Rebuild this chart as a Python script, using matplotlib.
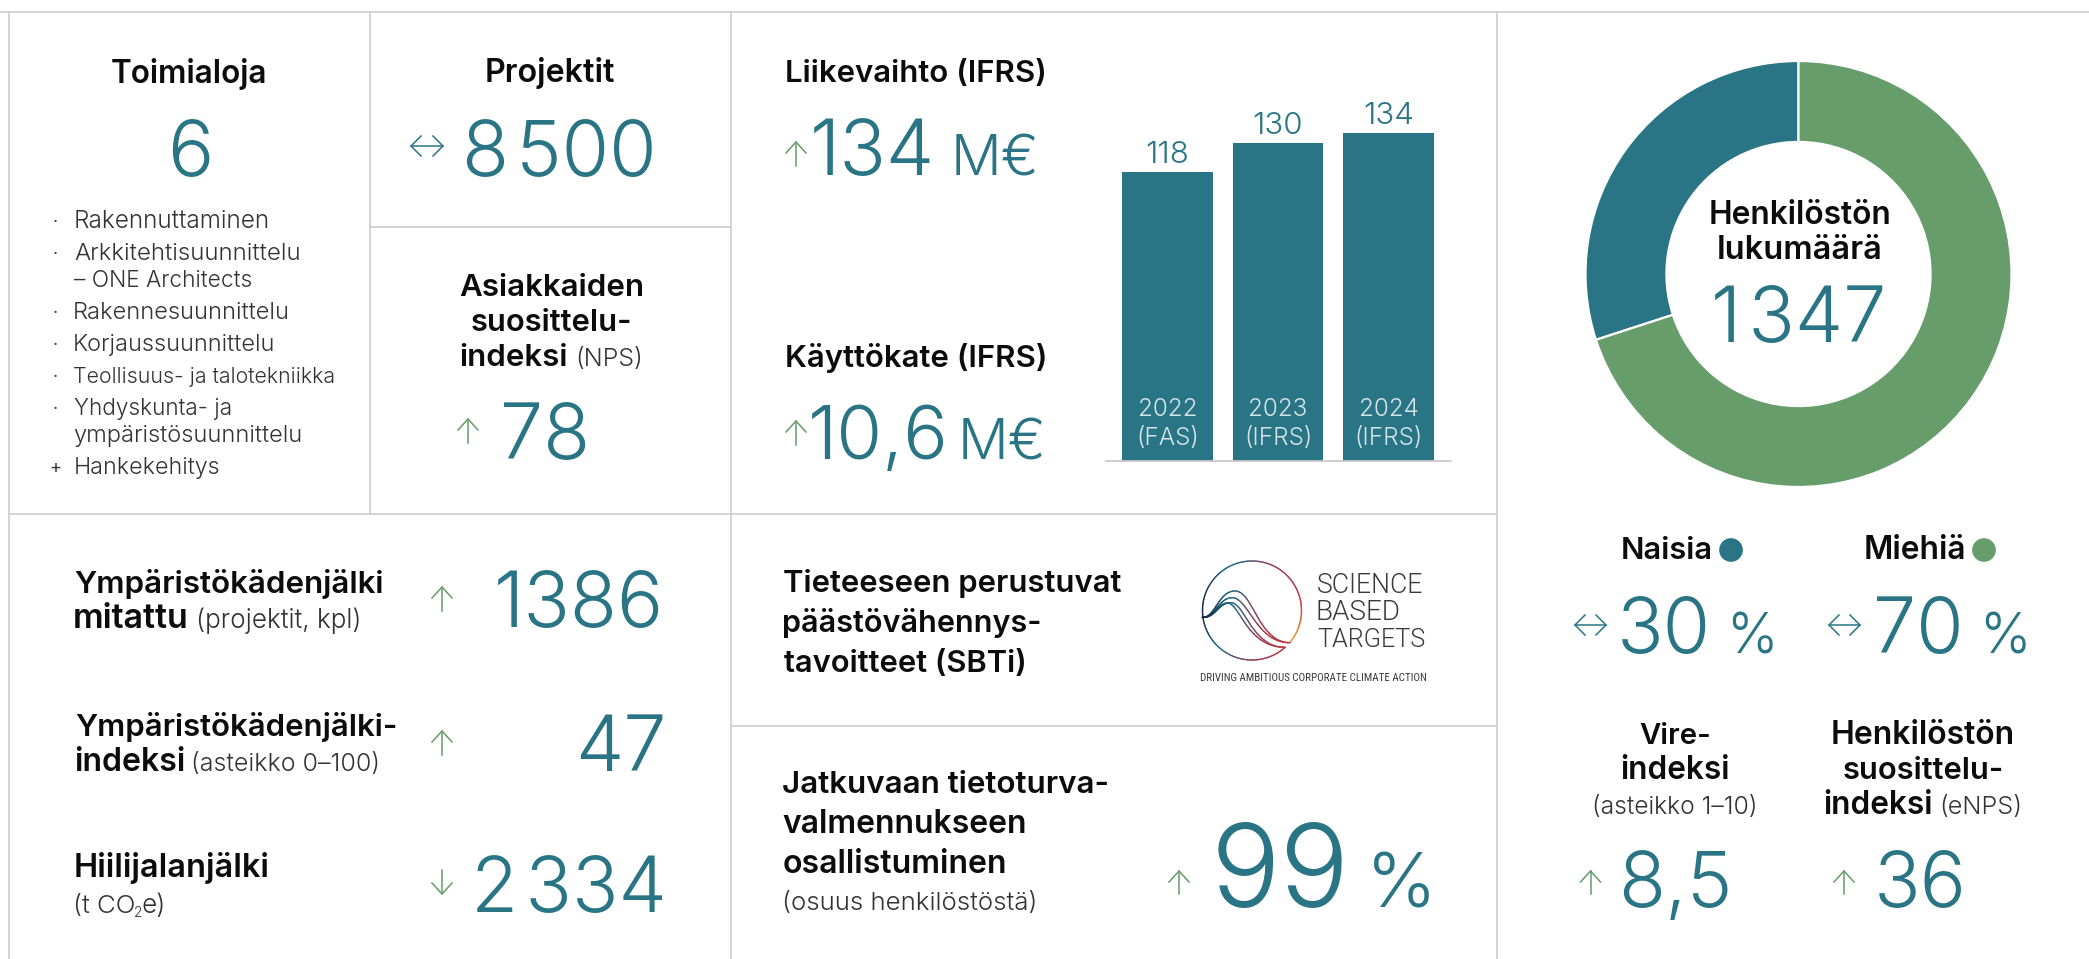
"""Yearly key-figures dashboard (Finnish), rebuilt on a pixel-sized overlay plus two small real charts."""

import matplotlib

matplotlib.use("Agg")
import matplotlib.pyplot as plt
import numpy as np
from matplotlib.collections import LineCollection
from matplotlib.colors import LinearSegmentedColormap
from matplotlib.font_manager import FontProperties
from matplotlib.textpath import TextPath

W, H = 2089, 959
DPI = 100
TEAL = "#2a7585"
GREEN = "#669d6b"
GRID = "#c9c9c9"
INK = "#0c0c0c"
BODY = "#333333"
FONT = "Inter"
CAP_RATIO = 0.727  # Inter cap height per em

# revenue bars
BAR_YEARS = ["2022", "2023", "2024"]
BAR_BASES = ["(FAS)", "(IFRS)", "(IFRS)"]
BAR_VALUES = [118, 130, 134]

# staff split
GENDER_LABELS = ["Naisia", "Miehiä"]
GENDER_SHARES = [30, 70]
GENDER_COLORS = [TEAL, GREEN]

# list of business areas
BUSINESS_AREAS = [
    "Rakennuttaminen",
    "Arkkitehtisuunnittelu",
    "– ONE Architects",
    "Rakennesuunnittelu",
    "Korjaussuunnittelu",
    "Teollisuus- ja talotekniikka",
    "Yhdyskunta- ja",
    "ympäristösuunnittelu",
    "Hankekehitys",
]
AREA_MARKS = ["·", "·", "", "·", "·", "·", "·", "", "+"]

fig = plt.figure(figsize=(W / DPI, H / DPI), dpi=DPI, facecolor="white")
ax = fig.add_axes([0, 0, 1, 1])
ax.set_xlim(0, W)
ax.set_ylim(H, 0)
ax.axis("off")


def fit(s, x0, x1, y, color=INK, weight=600, family=FONT, cap=None):
    """Put text on baseline y, its ink spanning x0..x1 in pixels; cap limits the height and centres it instead."""
    ink = TextPath((0, 0), s, size=100, prop=FontProperties(family=family, weight=weight)).get_extents()
    em_px = 100 * (x1 - x0) / ink.width
    if cap is not None:
        em_px = min(em_px, cap / CAP_RATIO)
    left = (x0 + x1) / 2 - ink.width * em_px / 200
    return ax.text(left - ink.x0 * em_px / 100, y, s, fontsize=em_px * 72 / DPI, color=color, fontweight=weight,
                   family=family, ha="left", va="baseline")


def value(s, x0, x1, y, cap=56):
    return fit(s, x0, x1, y, color=TEAL, weight=300, cap=cap)


def note(s, x0, x1, y):
    return fit(s, x0, x1, y, color=BODY, weight=300)


def rule(x0, y0, x1, y1):
    ax.plot([x0, x1], [y0, y1], color=GRID, lw=1.1, solid_capstyle="butt")


def up_arrow(x, y0, y1, color=GREEN):
    ax.plot([x, x], [y0, y1], color=color, lw=1.1)
    ax.plot([x - 10, x, x + 10], [y0 + 11, y0, y0 + 11], color=color, lw=1.1)


def down_arrow(x, y0, y1, color=GREEN):
    ax.plot([x, x], [y0, y1], color=color, lw=1.1)
    ax.plot([x - 10, x, x + 10], [y1 - 11, y1, y1 - 11], color=color, lw=1.1)


def both_arrow(x0, x1, y, color=TEAL):
    ax.plot([x0, x1], [y, y], color=color, lw=1.1)
    ax.plot([x0 + 10, x0, x0 + 10], [y - 10, y, y + 10], color=color, lw=1.1)
    ax.plot([x1 - 10, x1, x1 - 10], [y - 10, y, y + 10], color=color, lw=1.1)


# panel rules
rule(0, 11.5, W, 11.5)
rule(8.5, 11.5, 8.5, H)
rule(369.5, 11.5, 369.5, 514)
rule(731, 11.5, 731, H)
rule(1496.5, 11.5, 1496.5, H)
rule(369.5, 227, 731, 227)
rule(8.5, 514, 1496.5, 514)
rule(731, 726, 1496.5, 726)

# business areas
fit("Toimialoja", 112, 265.5, 83)
value("6", 168.5, 213, 176)
area_spans = [(75.5, 267.5), (74.5, 298), (74.5, 251.5), (75.5, 288.7), (75.5, 273.6), (74.5, 334), (74.5, 230),
              (74.5, 301), (75.5, 218)]
area_baselines = [228, 260, 287, 319, 351, 383, 415, 442, 474]
for name, mark, (x0, x1), y in zip(BUSINESS_AREAS, AREA_MARKS, area_spans, area_baselines):
    note(name, x0, x1, y)
    if mark:
        ax.text(55, y - 1, mark, fontsize=13, color=BODY, fontweight=400, family=FONT, ha="center", va="baseline")

# projects and NPS
fit("Projektit", 487, 614.5, 82)
both_arrow(411, 443, 146)
value("8\u200a500", 460, 659, 176)
fit("Asiakkaiden", 460, 642.5, 296)
fit("suosittelu-", 472, 630, 331)
fit("indeksi", 461, 566, 366)
note("(NPS)", 578, 640.5, 366)
up_arrow(468, 419, 443)
value("78", 499, 590, 459)

# revenue and EBITDA
fit("Liikevaihto (IFRS)", 787, 1044, 82)
up_arrow(796, 142, 166)
value("134", 812, 933, 175)
value("M€", 950, 1042, 175, cap=41)
fit("Käyttökate (IFRS)", 787, 1045, 367)
up_arrow(796, 421, 445)
value("10,6", 812, 944, 459)
value("M€", 956, 1050, 459, cap=41)

# revenue bars, 2.448 px per M€ and 110.5 px between bars
bar_ax = fig.add_axes([1106 / W, (H - 461) / H, 345 / W, 361 / H], facecolor="none")
bar_x = np.arange(len(BAR_VALUES))
bar_ax.bar(bar_x, BAR_VALUES, width=0.823, color=TEAL)
bar_ax.set_xlim(-0.557, 2.566)
bar_ax.set_ylim(0, 147.5)
bar_ax.set_xticks([])
bar_ax.set_yticks([])
for side in ("top", "left", "right"):
    bar_ax.spines[side].set_visible(False)
bar_ax.spines["bottom"].set_color(GRID)
bar_ax.spines["bottom"].set_linewidth(1.3)
for i, v in enumerate(BAR_VALUES):
    bar_ax.annotate(str(v), (i, v), xytext=(0, 9), textcoords="offset pixels", ha="center", va="baseline",
                    fontsize=22.5, color=TEAL, fontweight=300, family=FONT)
    bar_ax.annotate(BAR_YEARS[i], (i, 0), xytext=(0, 45), textcoords="offset pixels", ha="center", va="baseline",
                    fontsize=17.5, color="#d5e4e8", fontweight=300, family=FONT)
    bar_ax.annotate(BAR_BASES[i], (i, 0), xytext=(0, 16), textcoords="offset pixels", ha="center", va="baseline",
                    fontsize=17.5, color="#d5e4e8", fontweight=300, family=FONT)

# footprints
fit("Ympäristökädenjälki", 75.5, 383, 593)
fit("mitattu", 75.5, 187, 628)
note("(projektit, kpl)", 199, 359, 628)
up_arrow(442, 587, 611)
value("1386", 491, 667, 627)
fit("Ympäristökädenjälki-", 75.5, 395, 736)
fit("indeksi", 75.5, 183, 771)
note("(asteikko 0–100)", 194, 377.5, 771)
up_arrow(442, 731, 755)
value("47", 577, 666, 771)
fit("Hiilijalanjälki", 76, 267, 877)
note("(t CO", 76, 134, 913)
ax.text(138, 917, "2", fontsize=10, color=BODY, fontweight=300, family=FONT, ha="center", va="baseline")
note("e)", 143, 163, 913)
down_arrow(442, 870, 894)
value("2\u200a334", 470.5, 669, 912)

# SBTi
fit("Tieteeseen perustuvat", 784, 1120, 592)
fit("päästövähennys-", 784, 1039.5, 632)
fit("tavoitteet (SBTi)", 784, 1024, 672)

# SBTi logo, gradient strokes
logo_cmap = LinearSegmentedColormap.from_list(
    "logo", ["#16263f", "#1d6f8a", "#9a3b55", "#c6393f", "#f3a338"], N=256
)


def stroke(xs, ys, shades, lw=1.0):
    pts = np.column_stack([xs, ys]).reshape(-1, 1, 2)
    segs = np.concatenate([pts[:-1], pts[1:]], axis=1)
    ax.add_collection(LineCollection(segs, colors=logo_cmap(shades[:-1]), linewidths=lw, capstyle="round"))


def cubic(p0, p1, p2, p3, n=40):
    t = np.linspace(0, 1, n)[:, None]
    p0, p1, p2, p3 = map(np.asarray, (p0, p1, p2, p3))
    return (1 - t) ** 3 * p0 + 3 * (1 - t) ** 2 * t * p1 + 3 * (1 - t) * t**2 * p2 + t**3 * p3


cx, cy, r = 1252, 610.5, 49.5
upper = np.radians(np.linspace(180, -40, 120))
stroke(cx + r * np.cos(upper), cy - r * np.sin(upper), np.linspace(0.0, 1.0, 120) ** 1.1)
lower = np.radians(np.linspace(180, 312, 80))
stroke(cx + r * np.cos(lower), cy - r * np.sin(lower), np.linspace(0.0, 0.72, 80))
logo_curves = [
    ((255, 183), (310, 183), (325, 338), (420, 338)),
    ((247, 203), (295, 203), (320, 340), (420, 338)),
    ((242, 218), (285, 218), (305, 352), (405, 352)),
    ((232, 219), (270, 219), (290, 352), (405, 352)),
]
for peak, c1, c2, end in logo_curves:
    rise = cubic((157, 262), (195, 265), (205, peak[1]), peak)
    fall = cubic(peak, c1, c2, end)
    crv = np.vstack([rise, fall])
    px = 1150 + crv[:, 0] / 3
    py = 530 + crv[:, 1] / 3
    stroke(px, py, np.clip((crv[:, 0] - 157) / 263, 0, 1) * 0.78)

fit("SCIENCE", 1318, 1422.5, 593, color="#3a3a3a", weight=300, family="Roboto")
fit("BASED", 1318, 1399, 620, color="#3a3a3a", weight=300, family="Roboto")
fit("TARGETS", 1318, 1425, 647, color="#3a3a3a", weight=300, family="Roboto")
fit("DRIVING AMBITIOUS CORPORATE CLIMATE ACTION", 1200.5, 1426, 681, color="#3a3a3a", weight=400,
    family="Roboto Condensed")

# security training
fit("Jatkuvaan tietoturva-", 783, 1107, 793)
fit("valmennukseen", 783, 1025, 833)
fit("osallistuminen", 784, 1005, 873)
note("(osuus henkilöstöstä)", 785, 1035.5, 910)
up_arrow(1179, 871, 894)
value("99", 1211, 1350, 907, cap=84)
value("%", 1371, 1431, 907, cap=55)

# staff donut
pie_ax = fig.add_axes([(1798.5 - 213) / W, (H - 274 - 213) / H, 426 / W, 426 / H], facecolor="none")
pie_ax.pie(GENDER_SHARES, colors=GENDER_COLORS, startangle=90, counterclock=True, radius=1,
           wedgeprops=dict(width=0.38, edgecolor="white", linewidth=1.6))
pie_ax.set_xlim(-1, 1)
pie_ax.set_ylim(-1, 1)
fit("Henkilöstön", 1710.5, 1889, 224)
fit("lukumäärä", 1719, 1880, 259)
value("1\u200a347", 1713.5, 1884.5, 342)

# staff split figures
fit(GENDER_LABELS[0], 1623, 1711, 559)
fit(GENDER_LABELS[1], 1866, 1964, 559)
ax.scatter([1731, 1984], [550, 550], s=290, c=GENDER_COLORS, linewidths=0)
both_arrow(1575, 1606, 625)
value(f"{GENDER_SHARES[0]}", 1618, 1710, 653)
value("%", 1730, 1773, 653, cap=40)
both_arrow(1829, 1860, 625)
value(f"{GENDER_SHARES[1]}", 1871, 1964, 653)
value("%", 1983, 2027, 653, cap=40)

# staff indices
fit("Vire-", 1640, 1709, 744)
fit("indeksi", 1622, 1728, 779)
note("(asteikko 1–10)", 1595, 1755, 814)
fit("Henkilöstön", 1833, 2013, 744)
fit("suosittelu-", 1844, 2001.5, 779)
fit("indeksi", 1825, 1931, 814)
note("(eNPS)", 1942.5, 2020, 814)
up_arrow(1590.5, 871, 894)
value("8,5", 1621, 1730, 907)
up_arrow(1844, 871, 894)
value("36", 1875, 1966, 907)

fig.savefig("out.png", dpi=DPI)
